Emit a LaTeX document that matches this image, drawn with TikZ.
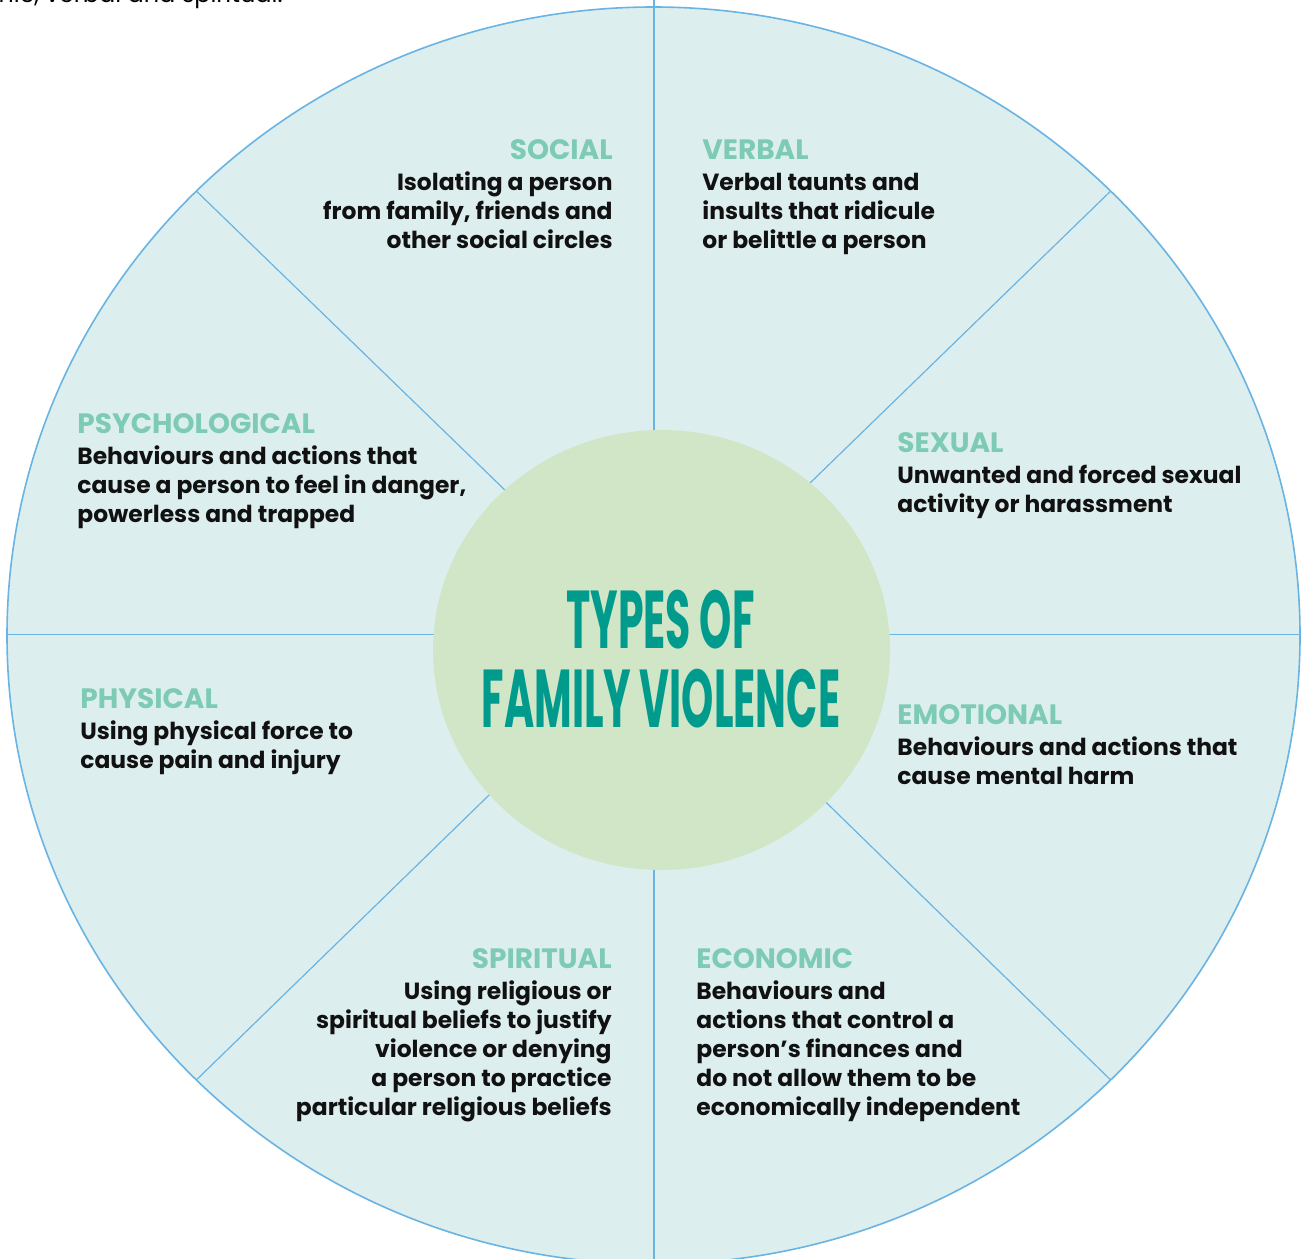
\documentclass[tikz,border=0pt]{standalone}
\usepackage{fontspec}
\setmainfont{Poppins}
\newfontfamily\titlefont{Poppins}
\definecolor{wheelfill}{RGB}{221,238,238}
\definecolor{wheelline}{RGB}{106,180,228}
\definecolor{hubfill}{RGB}{208,230,198}
\definecolor{titlecol}{RGB}{0,155,141}
\definecolor{headcol}{RGB}{125,203,180}
\definecolor{bodycol}{RGB}{17,17,17}
\newcommand{\hd}[1]{{\color{headcol}\fontsize{14}{15}\selectfont #1}}
\tikzset{
  spoke/.style={draw=wheelline, line width=0.6pt},
  blockL/.style={inner sep=0pt, align=left, anchor=north west, text=bodycol,
    font=\bfseries\fontsize{11.7}{14.5}\selectfont},
  blockR/.style={inner sep=0pt, align=right, anchor=north east, text=bodycol,
    font=\bfseries\fontsize{11.7}{14.5}\selectfont},
  titletext/.style={inner sep=0pt, anchor=base, text=titlecol,
    font=\titlefont\fontseries{sb}\fontsize{41}{41}\selectfont}
}
\begin{document}
\begin{tikzpicture}[x=0.5pt, y=-0.5pt]
\useasboundingbox (0,0) rectangle (1304,1258);
\clip (0,0) rectangle (1304,1258);
\fill[white] (0,0) rectangle (1304,1258);
% outer wheel
\filldraw[fill=wheelfill, draw=wheelline, line width=0.8pt] (653.5,635.5) ellipse [x radius=323.25pt, y radius=314.25pt];
\coordinate (c) at (654,634.5);
\coordinate (oN) at (654,0);
\coordinate (oS) at (654,1300);
\coordinate (oW) at (7,634.5);
\coordinate (oE) at (1300,634.5);
\coordinate (oNW) at (196.4,191.1);
\coordinate (oNE) at (1110.6,191.1);
\coordinate (oSW) at (196.4,1079.9);
\coordinate (oSE) at (1110.6,1079.9);
\foreach \p in {oN,oS,oW,oE,oNW,oNE,oSW,oSE} \draw[spoke] (c) -- (\p);
% hub
\fill[hubfill] (661.5,650) ellipse [x radius=114.25pt, y radius=110pt];
\node[titletext] (t1) at (660.5,648) {\scalebox{0.5}[1]{TYPES OF}};
\node[titletext] (t2) at (661,727) {\scalebox{0.5}[1]{FAMILY VIOLENCE}};
% top cropped sentence
\node[inner sep=0pt, anchor=base east, font=\fontsize{12}{14}\selectfont] (top) at (283,2.5) {economic, verbal and spiritual.};
% blocks
\node[blockR] (social) at (613,139) {\hd{SOCIAL}\\[1pt]Isolating a person\\from family, friends and\\other social circles};
\node[blockL] (verbal) at (702,139) {\hd{VERBAL}\\[1pt]Verbal taunts and\\insults that ridicule\\or belittle a person};
\node[blockL] (sexual) at (897,432) {\hd{SEXUAL}\\[1pt]Unwanted and forced sexual\\activity or harassment};
\node[blockL] (emotional) at (897,704) {\hd{EMOTIONAL}\\[1pt]Behaviours and actions that\\cause mental harm};
\node[blockL] (economic) at (696,948) {\hd{ECONOMIC}\\[1pt]Behaviours and\\actions that control a\\person’s finances and\\do not allow them to be\\economically independent};
\node[blockR] (spiritual) at (612,948) {\hd{SPIRITUAL}\\[1pt]Using religious or\\spiritual beliefs to justify\\violence or denying\\a person to practice\\particular religious beliefs};
\node[blockL] (physical) at (80,688) {\hd{PHYSICAL}\\[1pt]Using physical force to\\cause pain and injury};
\node[blockL] (psych) at (77,413) {\hd{PSYCHOLOGICAL}\\[1pt]Behaviours and actions that\\cause a person to feel in danger,\\powerless and trapped};
\end{tikzpicture}
\end{document}
